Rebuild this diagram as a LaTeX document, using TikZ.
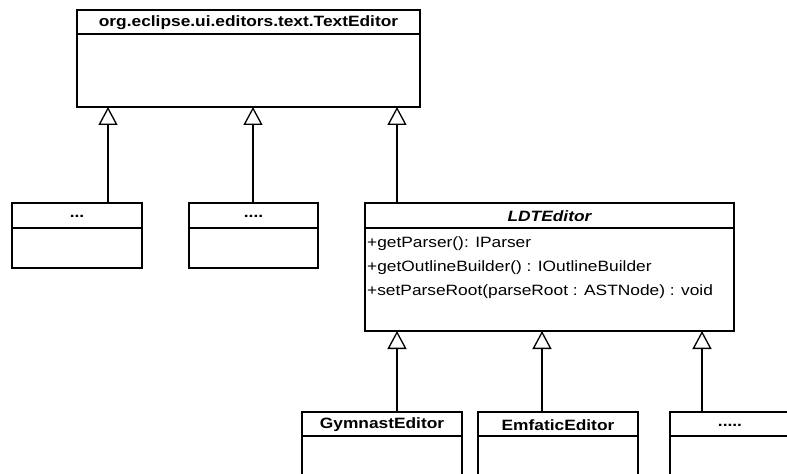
\documentclass[tikz,border=0pt]{standalone}
\usepackage{fontspec}
\setmainfont{Liberation Sans}[FakeStretch=1.16]
\usetikzlibrary{arrows.meta}
\newcommand\umlsep[2]{\draw[line width=1.3bp] ([yshift=-#2bp]#1.north west) -- ([yshift=-#2bp]#1.north east);}
\begin{document}
\begin{tikzpicture}[x=1bp,y=-1bp,
  cls/.style={draw, line width=1.3bp, anchor=north west, inner sep=0pt, outer sep=0pt},
  ttl/.style={font=\fontsize{15}{17}\selectfont\bfseries, inner sep=0pt},
  meth/.style={font=\fontsize{15}{17}\selectfont, inner sep=0pt, anchor=west},
  inh/.style={line width=1.3bp, -{Triangle[open, width=19bp, length=18bp, line width=1.3bp]}}]
\fill[white] (0,0) rectangle (787,474);
\useasboundingbox (0,0) rectangle (787,474);
\begin{scope}
\clip (0,0) rectangle (787,474);
% classes
\node[cls, minimum width=343bp, minimum height=97bp] (te) at (77,10) {};
\umlsep{te}{24}
\node[ttl] at ([yshift=-13bp]te.north) {org.eclipse.ui.editors.text.TextEditor};

\node[cls, minimum width=130bp, minimum height=65bp] (a) at (12,203) {};
\umlsep{a}{25}
\node[ttl] at ([yshift=-13.5bp]a.north) {...};

\node[cls, minimum width=129bp, minimum height=65bp] (b) at (189,203) {};
\umlsep{b}{25}
\node[ttl] at ([yshift=-13.5bp]b.north) {....};

\node[cls, minimum width=369bp, minimum height=128bp] (ldt) at (365,203) {};
\umlsep{ldt}{25}
\node[ttl, font=\fontsize{15}{17}\selectfont\bfseries\itshape] at ([yshift=-13.5bp]ldt.north) {LDTEditor};
\node[meth] (m1) at (367,244) {+getParser(): IParser};
\node[meth] (m2) at (367,268) {+getOutlineBuilder() : IOutlineBuilder};
\node[meth] (m3) at (367,292) {+setParseRoot(parseRoot : ASTNode) : void};

\node[cls, minimum width=160bp, minimum height=80bp] (g) at (302,412) {};
\umlsep{g}{24}
\node[ttl] at ([yshift=-13bp]g.north) {GymnastEditor};

\node[cls, minimum width=160bp, minimum height=80bp] (e) at (478,412) {};
\umlsep{e}{24}
\node[ttl] at ([yshift=-13bp]e.north) {EmfaticEditor};

\node[cls, minimum width=120bp, minimum height=80bp] (d) at (670,412) {};
\umlsep{d}{24}
\node[ttl] at ([yshift=-13bp]d.north) {.....};

% generalizations
\coordinate (a1) at ([xshift=96bp]a.north west);
\coordinate (b1) at ([xshift=64bp]b.north west);
\coordinate (l1) at ([xshift=32bp]ldt.north west);
\coordinate (g1) at ([xshift=95bp]g.north west);
\coordinate (e1) at ([xshift=64bp]e.north west);
\coordinate (d1) at ([xshift=32bp]d.north west);
\draw[inh] (a1) -- (a1 |- te.south);
\draw[inh] (b1) -- (b1 |- te.south);
\draw[inh] (l1) -- (l1 |- te.south);
\draw[inh] (g1) -- (g1 |- ldt.south);
\draw[inh] (e1) -- (e1 |- ldt.south);
\draw[inh] (d1) -- (d1 |- ldt.south);
\end{scope}
\end{tikzpicture}
\end{document}
